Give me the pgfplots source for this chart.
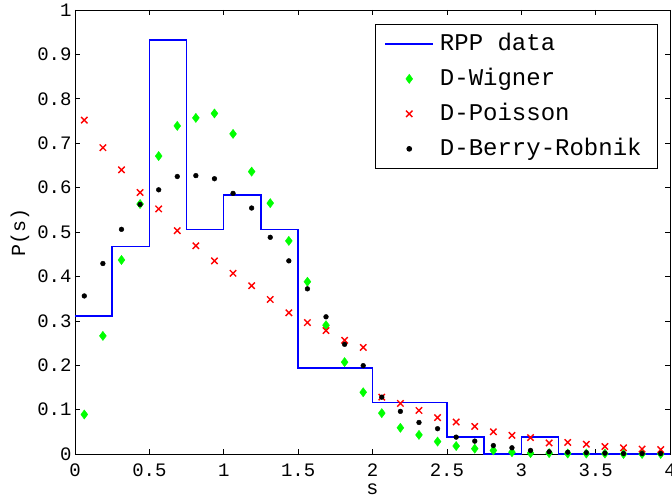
\documentclass[border=0pt]{standalone}
\usepackage{fontspec}
\setmainfont{Liberation Mono}
\usepackage{pgfplots}
\usepackage{pgfplotstable}
\pgfplotsset{compat=1.18}

% level spacing distributions, bin centres s = 0.0625 + 0.125k
\pgfplotstableread{
s      W      P      BR
0.0625 0.089  0.752  0.356
0.1875 0.266  0.690  0.429
0.3125 0.437  0.640  0.506
0.4375 0.563  0.589  0.562
0.5625 0.671  0.552  0.595
0.6875 0.739  0.503  0.625
0.8125 0.757  0.469  0.627
0.9375 0.767  0.435  0.620
1.0625 0.721  0.407  0.587
1.1875 0.636  0.379  0.554
1.3125 0.565  0.348  0.488
1.4375 0.480  0.318  0.435
1.5625 0.388  0.296  0.372
1.6875 0.290  0.278  0.309
1.8125 0.207  0.256  0.247
1.9375 0.139  0.240  0.199
2.0625 0.092  0.128  0.128
2.1875 0.059  0.114  0.096
2.3125 0.043  0.098  0.071
2.4375 0.028  0.082  0.057
2.5625 0.018  0.072  0.038
2.6875 0.012  0.062  0.029
2.8125 0.008  0.050  0.019
2.9375 0.004  0.042  0.014
3.0625 0.002  0.037  0.008
3.1875 0.002  0.025  0.005
3.3125 0.001  0.026  0.004
3.4375 0.001  0.022  0.003
3.5625 0.001  0.017  0.002
3.6875 0.000  0.014  0.001
3.8125 0.000  0.011  0.001
3.9375 0.000  0.010  0.001
}\spacing

\begin{document}
\begin{tikzpicture}
\begin{axis}[
    at={(0,0)}, anchor=south west,
    scale only axis, width=595pt, height=444pt,
    xmin=0, xmax=4, ymin=0, ymax=1,
    xtick={0,0.5,...,4},
    ytick={0,0.1,0.2,0.3,0.4,0.5,0.6,0.7,0.8,0.9,1},
    tick align=inside, tick pos=both,
    major tick length=5pt,
    tick style={black, line width=0.6pt},
    axis line style={line width=0.8pt},
    /pgf/number format/assume math mode=true,
    tick label style={font=\fontsize{19}{19}\selectfont},
    xticklabel style={yshift=-6pt},
    label style={font=\fontsize{20}{20}\selectfont},
    xlabel={s}, ylabel={P(s)},
    xlabel style={at={(axis description cs:0.5,-0.0923)}, anchor=base},
    ylabel style={at={(axis description cs:-0.084,0.5)}, anchor=base},
    clip=false,
    legend style={font=\fontsize{24}{24}\selectfont,
        at={(1,1)}, anchor=north east, xshift=-12.7pt, yshift=-14.3pt,
        draw=black, line width=0.8pt,
        inner xsep=9.3pt, inner ysep=11pt,
        row sep=18.7pt, column sep=6pt,
        cells={anchor=west, inner sep=0pt},
        nodes={inner sep=0pt, text height=15pt, text depth=1.3pt}},
    legend image code/.code={\draw[mark repeat=2,mark phase=2,#1]
        plot coordinates {(0pt,0pt) (24pt,0pt) (48pt,0pt)};},
]
\addplot[const plot, color=blue, line width=1.4pt] coordinates {
    (0,0.311) (0.25,0.467) (0.5,0.932) (0.75,0.505) (1,0.583)
    (1.25,0.505) (1.5,0.194) (2,0.116) (2.5,0.038) (2.75,0)
    (3,0.038) (3.25,0) (4,0)
};
\addlegendentry{RPP data}
\addplot[only marks, mark=diamond*, mark size=4.6pt, color=green,
    mark options={fill=green, line width=0.4pt}] table[x=s, y=W] {\spacing};
\addlegendentry{D-Wigner}
\addplot[only marks, mark=x, mark size=4.5pt, color=red,
    mark options={line width=1.4pt}] table[x=s, y=P] {\spacing};
\addlegendentry{D-Poisson}
\addplot[only marks, mark=*, mark size=2.4pt, color=black] table[x=s, y=BR] {\spacing};
\addlegendentry{D-Berry-Robnik\hspace*{6pt}}
\end{axis}
\pgfresetboundingbox
\path[use as bounding box] (-75pt,-44pt) rectangle (597pt,454pt);
\end{tikzpicture}
\end{document}
